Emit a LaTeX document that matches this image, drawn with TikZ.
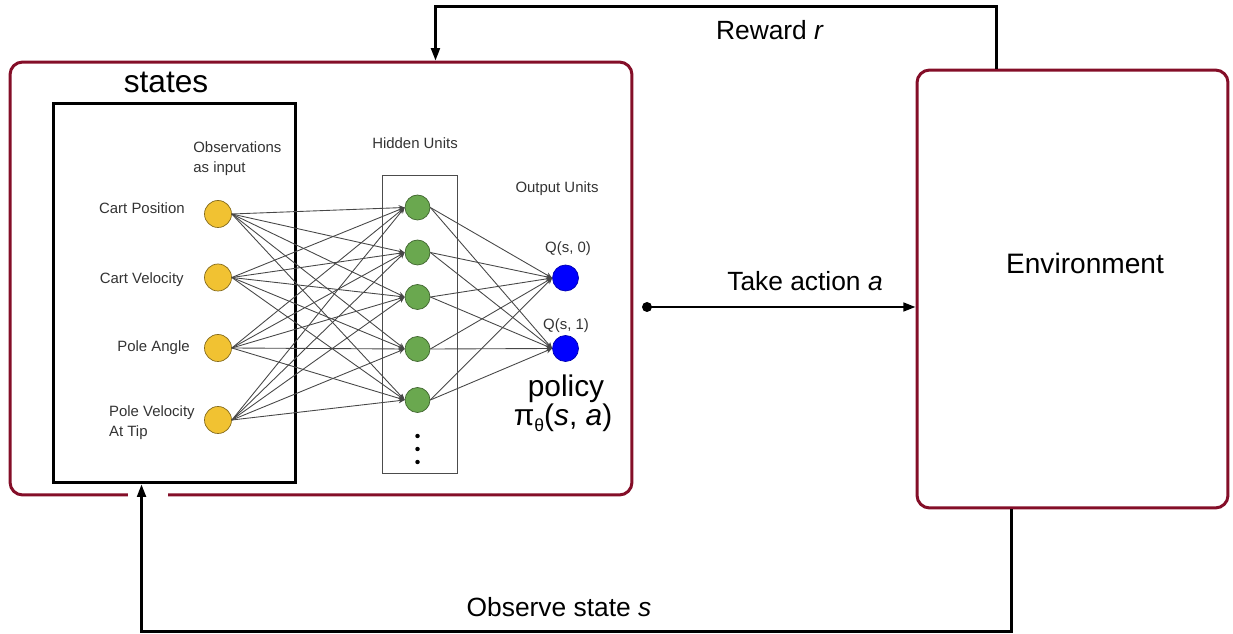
\documentclass[tikz,border=0pt]{standalone}
\usepackage{fontspec}
\setmainfont{Liberation Sans}
\usetikzlibrary{arrows.meta}
\definecolor{agentred}{RGB}{132,14,40}
\definecolor{inyellow}{RGB}{241,194,50}
\definecolor{hidgreen}{RGB}{106,168,79}
\newcommand{\fsz}[1]{\fontsize{#1}{#1}\selectfont}
\tikzset{
  redbox/.style={draw=agentred, line width=1.7pt, rounded corners=0.25cm, inner sep=0},
  obsbox/.style={draw=black, line width=1.7pt, inner sep=0},
  inunit/.style={circle, draw=black!45!inyellow, fill=inyellow, minimum size=0.54cm, inner sep=0},
  hidunit/.style={circle, draw=black!40!hidgreen, fill=hidgreen, minimum size=0.5cm, inner sep=0},
  outunit/.style={circle, draw=blue!70!black, fill=blue, minimum size=0.52cm, inner sep=0},
  wire/.style={draw=black!72, line width=0.5pt, -{Stealth[length=3.5pt,width=3pt]}},
  flow/.style={draw=black, line width=1.3pt, -{Triangle[length=7pt,width=5pt]}},
  smalltxt/.style={font=\fsz{8.5}, text=black!80, inner sep=0},
  bigtxt/.style={font=\fsz{15}, inner sep=0}
}
\begin{document}
\begin{tikzpicture}[x=0.02cm, y=-0.02cm]
  \useasboundingbox (0,0) rectangle (1233,634);

  % agent and environment
  \node [redbox, minimum width=12.44cm, minimum height=8.66cm] (agent) at (321,278.5) {};
  \node [redbox, minimum width=6.22cm, minimum height=8.76cm] (env) at (1072.5,289) {};
  \node [bigtxt, font=\fsz{16}] (envlbl) at (1085,263) {Environment};
  \fill [white] (128,490) rectangle (168,500); % gap for the state arrow
  \node [obsbox, minimum width=4.86cm, minimum height=7.6cm] (obs) at (174.5,293) {};
  \node [bigtxt, font=\fsz{18}] (states) at (166,82) {states};

  % layers
  \node [draw=black!70, line width=0.4pt, minimum width=1.5cm, minimum height=5.96cm, inner sep=0] (hidbox) at (419.5,324) {};
  \foreach \i/\y in {1/214, 2/277.5, 3/348, 4/420}
    \node [inunit] (in\i) at (218,\y) {};
  \foreach \j/\y in {1/207.5, 2/252.5, 3/297, 4/349, 5/400}
    \node [hidunit] (hid\j) at (417.5,\y) {};
  \foreach \k/\y in {1/278, 2/348.5}
    \node [outunit] (out\k) at (565.5,\y) {};
  \foreach \y [count=\d] in {436, 449, 462}
    \fill (417.5,\y) circle (0.045cm) coordinate (dot\d);

  % connections
  \foreach \i in {1,...,4}
    \foreach \j in {1,...,5}
      \draw [wire] (in\i.east) -- (hid\j.west);
  \foreach \j in {1,...,5}
    \foreach \k in {1,2}
      \draw [wire] (hid\j.east) -- (out\k.west);

  % labels
  \node [smalltxt, anchor=east] (lblpos) at (185,208) {Cart Position};
  \node [smalltxt, anchor=east] (lblvel) at (184,280) {Cart Velocity};
  \node [smalltxt, anchor=east] (lblang) at (190,348) {Pole Angle};
  \node [smalltxt, anchor=east, align=left] (lbltip) at (195,423) {Pole Velocity\\[3pt]At Tip};
  \node [smalltxt, anchor=west, align=left] (lblobs) at (193,158.5) {Observations\\[3pt]as input};
  \node [smalltxt] (lblhid) at (415,143) {Hidden Units};
  \node [smalltxt] (lblout) at (557,189) {Output Units};
  \node [smalltxt] (lblq0) at (568,249) {Q(s, 0)};
  \node [smalltxt] (lblq1) at (566,326) {Q(s, 1)};
  \node [bigtxt, font=\fsz{17}] (policy) at (566,389) {policy};
  \node [bigtxt, font=\fsz{17}] (pifun) at (563,418) {π\raisebox{-0.35ex}{\fsz{10}θ}(\textit{s}, \textit{a})};

  % loop between agent and environment
  \draw [flow] ([xshift=1.62cm]env.north west) -- ++(0,-62) -| ([xshift=8.54cm]agent.north west);
  \node [bigtxt] (lblrew) at (770,30) {Reward \textit{r}};
  \coordinate (act) at (647,307);
  \fill (act) circle (0.1cm);
  \draw [flow] (act) -- (act -| env.west);
  \node [bigtxt] (lblact) at (805,281) {Take action \textit{a}};
  \draw [flow] ([xshift=1.92cm]env.south west) -- ++(0,122) -| ([xshift=1.8cm]obs.south west);
  \node [bigtxt] (lblobsv) at (559,607) {Observe state \textit{s}};
\end{tikzpicture}
\end{document}
